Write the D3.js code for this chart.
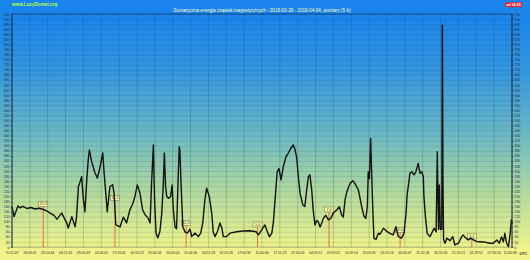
<!DOCTYPE html>
<html>
<head>
<meta charset="utf-8">
<script src="https://cdn.jsdelivr.net/npm/d3@7"></script>
<style>
  body { margin: 0; background: #1a84ec; }
  svg { display: block; font-family: "Liberation Sans", Arial, sans-serif; }
</style>
</head>
<body>
<svg id="chart" width="530" height="260"></svg>
<script>
// measurement time (hours from start) and summed energy
const hours = [
  0.0, 0.7, 2.0, 2.7, 3.7, 5.0, 6.4, 7.7, 9.1, 10.4, 11.8, 12.8, 14.1, 15.1, 16.7, 18.4, 18.9, 20.1, 21.2, 21.7,
  22.3, 22.8, 23.4, 24.0, 24.5, 25.1, 25.6, 26.0, 26.8, 27.9, 28.7, 29.6, 30.5, 30.9, 31.6, 32.0, 32.9, 33.8, 34.3, 34.6,
  34.9, 36.3, 37.4, 38.5, 39.6, 40.6, 41.3, 42.1, 43.0, 43.9, 44.7, 45.8, 46.4, 46.9, 47.5, 47.9, 48.4, 49.0, 49.7, 50.3,
  50.8, 51.2, 51.6, 52.0, 52.5, 53.3, 53.8, 54.2, 54.8, 55.3, 55.9, 56.2, 56.4, 56.8, 57.4, 58.1, 58.9, 59.8, 60.4, 61.5,
  62.6, 63.4, 64.1, 64.8, 65.4, 66.3, 67.1, 67.6, 68.2, 69.0, 69.9, 70.5, 71.0, 72.1, 73.3, 75.5, 77.7, 80.0, 82.0, 82.8,
  83.9, 85.0, 85.8, 86.5, 87.3, 87.8, 88.4, 89.1, 89.7, 90.4, 91.2, 92.1, 92.8, 93.7, 94.5, 95.1, 95.7, 96.2, 96.8, 97.7,
  98.4, 99.0, 99.6, 100.1, 100.7, 101.2, 101.8, 102.4, 102.9, 103.5, 104.1, 104.6, 105.4, 106.3, 107.1, 108.0, 109.1, 110.0, 110.8, 111.3,
  111.9, 112.5, 113.6, 114.5, 115.2, 116.4, 117.5, 118.3, 118.9, 119.4, 119.7, 120.1, 120.5, 120.9, 121.2, 121.6, 122.3, 123.1, 123.6, 124.8,
  125.9, 127.0, 128.1, 129.0, 129.8, 130.9, 131.7, 132.4, 132.8, 133.3, 133.7, 134.3, 135.1, 135.7, 136.5, 137.1, 137.7, 138.2, 138.4, 138.9,
  139.5, 140.4, 141.0, 141.8, 142.5, 142.9, 143.3, 143.6, 143.9, 144.4, 144.6, 144.8, 145.0, 145.5, 146.1, 147.2, 148.1, 148.8, 150.0, 151.1,
  151.6, 152.5, 153.3, 154.1, 155.0, 156.1, 158.4, 160.6, 161.7, 162.9, 163.7, 164.5, 165.1, 165.6, 166.2, 166.8, 167.4, 167.8, 168.0
];
const energy = [
  159, 120, 162, 155, 160, 152, 156, 150, 153, 149, 142, 134, 125, 110, 134, 95, 75, 120, 80, 120,
  238, 255, 278, 186, 139, 260, 343, 383, 335, 292, 272, 317, 371, 300, 199, 139, 238, 246, 213, 146,
  87, 79, 118, 95, 146, 172, 199, 245, 213, 146, 128, 113, 95, 253, 403, 186, 55, 36, 62, 130,
  238, 371, 238, 199, 192, 199, 245, 146, 79, 72, 300, 396, 383, 250, 80, 60, 55, 70, 41, 55,
  41, 55, 95, 186, 232, 199, 134, 60, 41, 60, 95, 75, 41, 41, 55, 60, 63, 64, 60, 48,
  68, 87, 60, 41, 55, 95, 186, 297, 310, 265, 320, 357, 370, 390, 403, 385, 350, 278, 212, 166,
  160, 225, 278, 285, 225, 146, 87, 105, 100, 79, 95, 113, 125, 107, 113, 134, 146, 159, 125, 118,
  186, 218, 251, 262, 251, 225, 159, 120, 113, 160, 297, 270, 429, 270, 160, 34, 30, 54, 50, 74,
  62, 54, 48, 80, 41, 35, 54, 133, 212, 251, 291, 297, 285, 297, 330, 291, 297, 278, 200, 120,
  54, 41, 54, 74, 60, 376, 70, 245, 70, 70, 876, 280, 30, 15, 35, 25, 41, 8, 15, 41,
  47, 35, 28, 35, 28, 22, 20, 15, 15, 28, 15, 40, 20, 54, 15, 1, 54, 107, 90
];

// time axis labels, one every 6 hours
const timeLabels = [
  "15:21:07", "18:03:01", "20:54:46", "04:11:16", "09:05:49", "14:00:20", "19:26:01", "00:14:23",
  "05:00:04", "10:05:04", "15:06:06", "20:01:28", "01:01:56", "07:00:39", "12:00:06", "17:11:23",
  "22:50:04", "04:09:11", "09:09:02", "14:09:14", "20:09:45", "01:05:16", "06:06:47", "11:10:18",
  "16:20:03", "21:20:21", "02:29:52", "07:30:24", "12:40:08"
];
const labelStep = 6;

// day markers
const dayNames = ["29.3", "30.3", "31.3", "1.4", "2.4", "3.4", "4.4"];
const dayHours = [10.5, 34.6, 58.5, 82.5, 106.5, 130.4, 154.5];
const dayLevels = [170, 193, 95, 89, 148, 68, 42];

const yMax = 920;
const yStep = 20;

const titleText = "Sumaryczna energia cząstek magnetycznych - 2018-03-28 - 2018-04-04, pomiary (5 h)";
const siteText = "www.LucyDomel.org";
const badgeText = "od 14:55";

const svg = d3.select("#chart");
const W = 530, H = 260;
const pLeft = 12, pRight = 512, pTop = 14, pBottom = 247;

const x = d3.scaleLinear().domain([0, (timeLabels.length - 1) * labelStep]).range([pLeft, pRight]);
const y = d3.scaleLinear().domain([0, yMax]).range([pBottom, pTop]);

// background gradient
const defs = svg.append("defs");
const grad = defs.append("linearGradient")
    .attr("id", "bg")
    .attr("gradientUnits", "userSpaceOnUse")
    .attr("x1", 0).attr("y1", pTop).attr("x2", 0).attr("y2", 252);
[[0, "#1a84ec"], [0.25, "#3597dd"], [0.5, "#6ab7c4"], [0.75, "#b2da9e"], [1, "#f3f38a"]]
    .forEach(s => grad.append("stop").attr("offset", s[0]).attr("stop-color", s[1]));

svg.append("rect").attr("width", W).attr("height", H).attr("fill", "url(#bg)");

// grid
const yTicks = d3.range(0, yMax + 1, yStep);
svg.append("g").selectAll("line")
    .data(yTicks)
    .enter().append("line")
    .attr("x1", pLeft).attr("x2", pRight)
    .attr("y1", d => y(d) + 0.5).attr("y2", d => y(d) + 0.5)
    .attr("stroke", "rgba(25,60,100,0.2)")
    .attr("stroke-width", 0.6);

svg.append("g").selectAll("line")
    .data(timeLabels)
    .enter().append("line")
    .attr("x1", (d, i) => x(i * labelStep)).attr("x2", (d, i) => x(i * labelStep))
    .attr("y1", pTop).attr("y2", pBottom)
    .attr("stroke", "rgba(25,60,100,0.3)")
    .attr("stroke-width", 0.7);

// day markers
const marks = svg.append("g");
dayHours.forEach((h, i) => {
    marks.append("line")
        .attr("x1", x(h)).attr("x2", x(h))
        .attr("y1", y(dayLevels[i]) + 2.5).attr("y2", pBottom)
        .attr("stroke", "#e0743c")
        .attr("stroke-width", 1);
});

// data line
const pts = hours.map((h, i) => [h, energy[i]]);
svg.append("path")
    .datum(pts)
    .attr("d", d3.line().x(d => x(d[0])).y(d => y(d[1])))
    .attr("fill", "none")
    .attr("stroke", "#121212")
    .attr("stroke-width", 1.4)
    .attr("stroke-linejoin", "round");

dayHours.forEach((h, i) => {
    const g = marks.append("g").attr("transform", `translate(${x(h)},${y(dayLevels[i])})`);
    g.append("rect")
        .attr("x", -4.5).attr("y", -2.5).attr("width", 9).attr("height", 5)
        .attr("fill", "#fbf8a6").attr("stroke", "#6a6a40").attr("stroke-width", 0.5);
    g.append("text")
        .attr("y", 1.3)
        .attr("text-anchor", "middle")
        .attr("font-size", 3.6)
        .attr("fill", "#333")
        .text(dayNames[i]);
});

// frame
svg.append("line").attr("x1", pLeft).attr("x2", pRight).attr("y1", pTop).attr("y2", pTop)
    .attr("stroke", "#163a6a").attr("stroke-width", 0.8);
svg.append("line").attr("x1", pLeft).attr("x2", pLeft).attr("y1", pTop).attr("y2", pBottom + 1)
    .attr("stroke", "#1a2a40").attr("stroke-width", 1);
svg.append("line").attr("x1", pRight).attr("x2", pRight).attr("y1", pTop).attr("y2", pBottom + 1)
    .attr("stroke", "#1a2a40").attr("stroke-width", 1);
svg.append("line").attr("x1", pLeft).attr("x2", pRight).attr("y1", pBottom).attr("y2", pBottom)
    .attr("stroke", "rgba(40,60,60,0.5)").attr("stroke-width", 0.6);

// y axes
const yLeft = svg.append("g")
    .attr("transform", `translate(${pLeft},0)`)
    .call(d3.axisLeft(y).tickValues(yTicks).tickSize(1.5).tickPadding(1));
const yRight = svg.append("g")
    .attr("transform", `translate(${pRight},0)`)
    .call(d3.axisRight(y).tickValues(yTicks).tickSize(1.5).tickPadding(1));
[yLeft, yRight].forEach(a => {
    a.select(".domain").remove();
    a.selectAll("line").attr("stroke", "#1a2a40").attr("stroke-width", 0.5);
    a.selectAll("text")
        .attr("font-size", 3.4)
        .attr("font-family", "Liberation Sans, Arial, sans-serif")
        .attr("fill", "#1c2c44");
});

// x axis labels
svg.append("g").selectAll("text")
    .data(timeLabels)
    .enter().append("text")
    .attr("x", (d, i) => x(i * labelStep) - (i === timeLabels.length - 1 ? 2 : 0))
    .attr("y", 254)
    .attr("text-anchor", "middle")
    .attr("font-size", 3.4)
    .attr("fill", "#2a2a30")
    .text(d => d);

svg.append("text")
    .attr("x", 519.5).attr("y", 254.5)
    .attr("font-size", 3.8)
    .attr("font-weight", "bold")
    .attr("fill", "#333")
    .text("UTC");

// title and header
svg.append("text")
    .attr("x", 262).attr("y", 12)
    .attr("text-anchor", "middle")
    .attr("font-size", 4.6)
    .attr("fill", "#fbfcc0")
    .text(titleText);

svg.append("text")
    .attr("x", 12).attr("y", 5.5)
    .attr("font-size", 4.6)
    .attr("font-weight", "bold")
    .attr("fill", "#b4ff3c")
    .text(siteText);

svg.append("rect")
    .attr("x", 505).attr("y", 2.3).attr("width", 17).attr("height", 4.8)
    .attr("fill", "#e32636");
svg.append("text")
    .attr("x", 513.5).attr("y", 6)
    .attr("text-anchor", "middle")
    .attr("font-size", 3.6)
    .attr("font-weight", "bold")
    .attr("fill", "#fff")
    .text(badgeText);
</script>
</body>
</html>
